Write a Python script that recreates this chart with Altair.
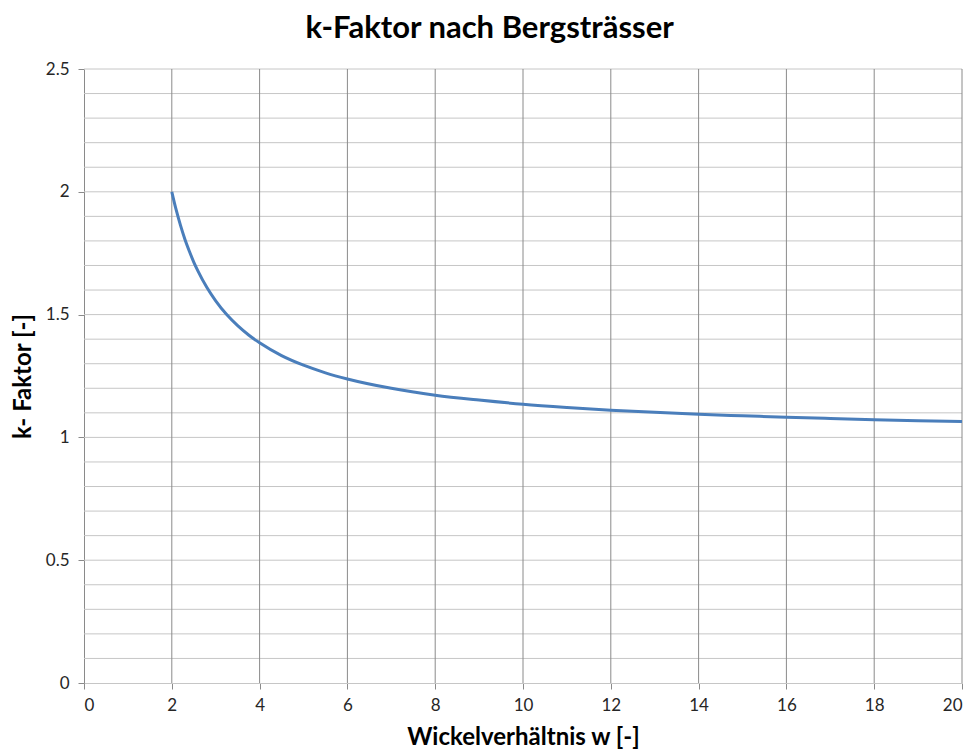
import altair as alt
import pandas as pd

# Winding ratio w and the Bergsträsser k-factor
w_values = [2.0, 2.1, 2.2, 2.3, 2.4, 2.5, 2.6, 2.8, 3.0, 3.25, 3.5, 3.75, 4.0,
            4.5, 5.0, 5.5, 6.0, 7.0, 8.0, 9.0, 10.0, 11.0, 12.0, 13.0, 14.0,
            15.0, 16.0, 17.0, 18.0, 19.0, 20.0]
k_values = [2.0, 1.926, 1.862, 1.806, 1.758, 1.714, 1.676, 1.610, 1.556, 1.500,
            1.455, 1.417, 1.385, 1.333, 1.294, 1.263, 1.238, 1.200, 1.172, 1.152,
            1.135, 1.122, 1.111, 1.102, 1.094, 1.088, 1.082, 1.077, 1.072, 1.068,
            1.065]

x_ticks = [0, 2, 4, 6, 8, 10, 12, 14, 16, 18, 20]
y_ticks = [0, 0.5, 1, 1.5, 2, 2.5]
y_grid = [round(0.1 * i, 1) for i in range(1, 26)]
x_grid = [2, 4, 6, 8, 10, 12, 14, 16, 18, 20]

FONT = "Lato"

curve = pd.DataFrame({"w": w_values, "k": k_values})
hgrid = pd.DataFrame({"k": y_grid})
vgrid = pd.DataFrame({"w": x_grid})

x_scale = alt.Scale(domain=[0, 20], nice=False, zero=False)
y_scale = alt.Scale(domain=[0, 2.5], nice=False, zero=False)

h_lines = alt.Chart(hgrid).mark_rule(color="#c6c6c6", strokeWidth=1).encode(
    y=alt.Y("k:Q", scale=y_scale)
)
v_lines = alt.Chart(vgrid).mark_rule(color="#8a8a8a", strokeWidth=1).encode(
    x=alt.X("w:Q", scale=x_scale)
)

line = alt.Chart(curve).mark_line(
    color="#4a7ebb", strokeWidth=3, interpolate="monotone"
).encode(
    x=alt.X(
        "w:Q",
        scale=x_scale,
        axis=alt.Axis(
            values=x_ticks,
            format="d",
            title="Wickelverhältnis w [-]",
            grid=False,
            domainColor="#c6c6c6",
            tickColor="#8a8a8a",
            tickSize=6,
            labelPadding=8,
            titlePadding=12,
        ),
    ),
    y=alt.Y(
        "k:Q",
        scale=y_scale,
        axis=alt.Axis(
            values=y_ticks,
            format="~g",
            title="k- Faktor [-]",
            grid=False,
            domainColor="#8a8a8a",
            tickColor="#8a8a8a",
            tickSize=6,
            labelPadding=9,
            titlePadding=10,
        ),
    ),
)

chart = (
    alt.layer(h_lines, v_lines, line)
    .properties(
        width=878,
        height=614,
        title=alt.TitleParams(
            "k-Faktor nach Bergsträsser",
            font=FONT,
            fontSize=31,
            fontWeight="bold",
            color="#000000",
            anchor="middle",
            frame="bounds",
            offset=15,
        ),
        autosize=alt.AutoSizeParams(type="none"),
        padding={"left": 84, "top": 69, "right": 12, "bottom": 68},
    )
    .configure_view(stroke=None)
    .configure_axis(
        labelFont=FONT,
        labelFontSize=17,
        labelColor="#262626",
        titleFont=FONT,
        titleFontSize=24,
        titleFontWeight="bold",
        titleColor="#000000",
        domainWidth=1,
        tickWidth=1,
    )
)

chart.save("out.html", embed_options={"renderer": "svg", "actions": False})
